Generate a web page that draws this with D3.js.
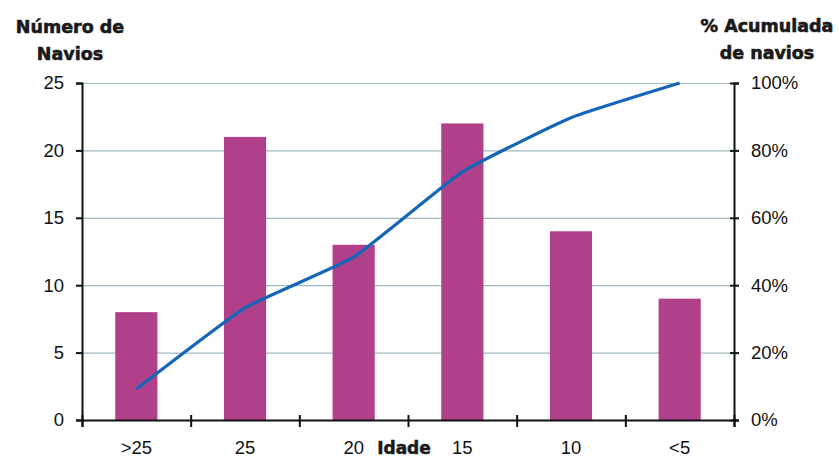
<!DOCTYPE html>
<html>
<head>
<meta charset="utf-8">
<script src="https://cdn.jsdelivr.net/npm/d3@7"></script>
<style>
  html, body { margin: 0; padding: 0; background: #fff; }
  svg { display: block; }
</style>
</head>
<body>
<svg id="chart" width="839" height="458"></svg>
<script>
const categories = [">25", "25", "20", "15", "10", "<5"];
const navios = [8, 21, 13, 22, 14, 9];
const acumulada = [0.092, 0.333, 0.483, 0.736, 0.897, 1.0];
const leftTicks = [0, 5, 10, 15, 20, 25];
const rightTicks = [0, 0.2, 0.4, 0.6, 0.8, 1.0];

const W = 839, H = 458;
const m = { left: 82, right: 734, top: 83, bottom: 420 };
const svg = d3.select("#chart");

const xCell = d3.scaleBand().domain(categories).range([m.left, m.right]).padding(0);
const xBar = d3.scaleBand().domain(categories).range([m.left, m.right])
  .paddingInner(0.612).paddingOuter(0.306);
const yL = d3.scaleLinear().domain([0, 25]).range([m.bottom, m.top]);
const yR = d3.scaleLinear().domain([0, 1]).range([m.bottom, m.top]);

const tickFont = "'Liberation Sans', Arial, sans-serif";
const titleFont = "'DejaVu Sans', sans-serif";

// gridlines
svg.append("g").selectAll("line").data(leftTicks.filter(d => d > 0)).join("line")
  .attr("x1", m.left).attr("x2", m.right)
  .attr("y1", d => yL(d) + 0.5).attr("y2", d => yL(d) + 0.5)
  .attr("stroke", "#9fb9c2").attr("stroke-width", 1.2);

// bars
svg.append("g").selectAll("rect").data(navios).join("rect")
  .attr("x", (d, i) => xBar(categories[i]))
  .attr("width", xBar.bandwidth())
  .attr("y", d => yL(d))
  .attr("height", d => yL(0) - yL(d))
  .attr("fill", "#b0408a");

// cumulative line
const line = d3.line()
  .x((d, i) => xCell(categories[i]) + xCell.bandwidth() / 2)
  .y(d => yR(d))
  .curve(d3.curveCardinal.tension(0.6));
svg.append("path").datum(acumulada)
  .attr("d", line)
  .attr("fill", "none")
  .attr("stroke", "#1565b8")
  .attr("stroke-width", 3.2)
  .attr("stroke-linejoin", "round");

// left axis
const gL = svg.append("g").attr("transform", `translate(${m.left},0)`)
  .call(d3.axisLeft(yL).tickValues(leftTicks).tickSize(6).tickPadding(12).tickFormat(d3.format("d")));
// right axis
const gR = svg.append("g").attr("transform", `translate(${m.right},0)`)
  .call(d3.axisRight(yR).tickValues(rightTicks).tickSize(5).tickPadding(12).tickFormat(d3.format(".0%")));
gR.selectAll(".tick line").attr("x1", -4);
// bottom axis with ticks at category boundaries
const boundaries = categories.map(c => xCell(c)).concat([m.right]);
const xLin = d3.scaleLinear().domain([m.left, m.right]).range([m.left, m.right]);
const gB = svg.append("g").attr("transform", `translate(0,${m.bottom})`)
  .call(d3.axisBottom(xLin).tickValues(boundaries).tickSize(7).tickFormat(""));
gB.selectAll(".tick line").attr("y1", -5);

[gL, gR, gB].forEach(g => {
  g.select(".domain").attr("stroke", "#111").attr("stroke-width", 2);
  g.selectAll(".tick line").attr("stroke", "#111").attr("stroke-width", 2);
  g.selectAll(".tick text").attr("font-family", tickFont).attr("font-size", 18.5).attr("fill", "#111");
});

// category labels
svg.append("g").selectAll("text").data(categories).join("text")
  .attr("x", d => xCell(d) + xCell.bandwidth() / 2)
  .attr("y", 454)
  .attr("text-anchor", "middle")
  .attr("font-family", tickFont).attr("font-size", 18.5).attr("fill", "#111")
  .text(d => d);

// axis titles
function title(lines, x, y0) {
  const t = svg.append("text").attr("text-anchor", "middle")
    .attr("font-family", titleFont).attr("font-weight", "bold")
    .attr("font-size", 17.5).attr("fill", "#1a1a1a")
    .attr("stroke", "#1a1a1a").attr("stroke-width", 0.6);
  lines.forEach((l, i) => t.append("tspan").attr("x", x).attr("y", y0 + i * 27).text(l));
}
title(["Número de", "Navios"], 70, 33);
title(["% Acumulada", "de navios"], 767, 32);

svg.append("text").attr("x", 404).attr("y", 454).attr("text-anchor", "middle")
  .attr("font-family", titleFont).attr("font-weight", "bold")
  .attr("font-size", 17).attr("fill", "#1a1a1a")
  .attr("stroke", "#1a1a1a").attr("stroke-width", 0.5).text("Idade");
</script>
</body>
</html>
